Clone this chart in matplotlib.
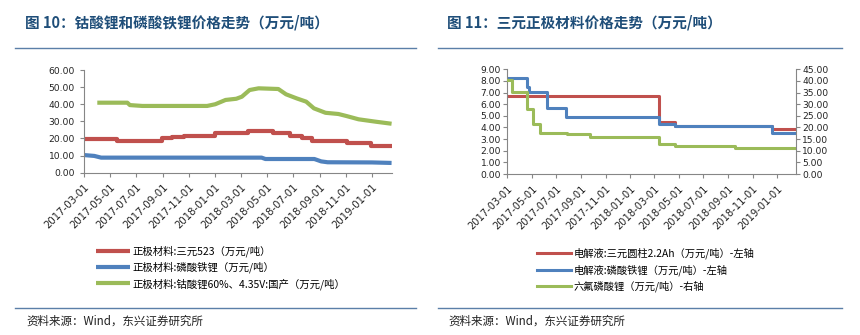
import pandas as pd
import matplotlib
matplotlib.use('Agg')
import matplotlib.pyplot as plt
from matplotlib.lines import Line2D

plt.rcParams['font.family'] = ['Noto Sans CJK SC', 'DejaVu Sans']

# --- Data: 图10 (left) ---
lco_dates = ['2017-04-01', '2017-06-10', '2017-06-16', '2017-07-15', '2017-12-13',
             '2018-01-01', '2018-01-25', '2018-02-19', '2018-03-04', '2018-03-22',
             '2018-04-12', '2018-05-28', '2018-06-15', '2018-07-10', '2018-08-01',
             '2018-08-19', '2018-09-15', '2018-10-15', '2018-11-03', '2018-12-01',
             '2019-01-10', '2019-02-16']
lco_vals = [40.9, 40.9, 39.5, 39.0, 39.0, 40.0, 42.5, 43.2, 44.4, 48.3,
            49.3, 48.9, 45.8, 43.4, 41.5, 37.6, 35.0, 34.3, 33.1, 31.2, 29.8, 28.6]

ncm_dates = ['2017-03-01', '2017-05-16', '2017-08-29', '2017-09-21', '2017-10-19',
             '2017-12-31', '2018-03-19', '2018-05-15', '2018-06-25', '2018-07-22',
             '2018-08-15', '2018-11-05', '2018-12-31', '2019-02-16']
ncm_vals = [19.5, 18.7, 20.1, 21.0, 21.6, 23.4, 24.4, 23.0, 21.4, 20.1,
            18.7, 17.2, 15.8, 15.8]

lfp_dates = ['2017-03-01', '2017-03-25', '2017-04-10', '2018-04-19', '2018-04-28',
             '2018-08-20', '2018-09-05', '2018-09-20', '2019-01-01', '2019-02-16']
lfp_vals = [10.3, 9.8, 8.8, 8.8, 8.0, 8.0, 6.6, 6.1, 6.0, 5.7]

# --- Data: 图11 (right) ---
el_ncm_dates = ['2017-03-01', '2018-03-13', '2018-04-22', '2018-12-19', '2019-02-16']
el_ncm_vals = [6.71, 4.50, 4.13, 3.84, 3.84]

el_lfp_dates = ['2017-03-01', '2017-04-19', '2017-04-25', '2017-06-07', '2017-07-25',
                '2018-03-13', '2018-04-22', '2018-12-19', '2019-02-16']
el_lfp_vals = [8.25, 7.5, 7.02, 5.70, 4.93, 4.27, 4.13, 3.55, 3.55]

lipf6_dates = ['2017-03-01', '2017-03-12', '2017-04-19', '2017-05-04', '2017-05-22',
               '2017-07-28', '2017-09-22', '2018-03-13', '2018-04-22', '2018-09-19',
               '2018-11-22', '2019-02-16']
lipf6_vals = [40.4, 35.4, 27.8, 21.5, 17.5, 17.1, 16.0, 12.9, 12.0, 11.0, 11.3, 11.3]

tick_dates = pd.date_range('2017-03-01', '2019-01-01', freq='2MS')
x_end = pd.Timestamp('2019-02-17')

RED = '#C0504D'
BLUE = '#4F81BD'
GREEN = '#9BBB59'
TITLE_C = '#1F4E79'
SEP_C = '#5B7FA8'
GRAY = '#868686'

fig = plt.figure(figsize=(8.6, 3.35), dpi=100)


def px(x, y):
    return x / 860, 1 - y / 335


def style_axis(ax, date_fs=7.3):
    ax.set_xlim(tick_dates[0], x_end)
    ax.set_xticks(tick_dates)
    ax.set_xticklabels([d.strftime('%Y-%m-%d') for d in tick_dates], rotation=45,
                       ha='right', va='top', rotation_mode='anchor',
                       fontsize=date_fs, family='DejaVu Sans', color='#222222')
    ax.tick_params(axis='x', length=3, color=GRAY, pad=4)
    ax.tick_params(axis='y', length=3, color=GRAY, labelsize=6.6, labelcolor='#222222')
    for lab in ax.get_yticklabels():
        lab.set_family('DejaVu Sans')
    for s in ['top', 'right']:
        ax.spines[s].set_visible(False)
    for s in ['left', 'bottom']:
        ax.spines[s].set_color(GRAY)
        ax.spines[s].set_linewidth(0.8)


# --- Left chart ---
l0, b0 = px(84, 172.7)
l1, b1 = px(392, 70)
ax1 = fig.add_axes([l0, b0, l1 - l0, b1 - b0])
ax1.plot(pd.to_datetime(ncm_dates), ncm_vals, color=RED, lw=3, drawstyle='steps-post',
         solid_capstyle='butt', label='正极材料:三元523（万元/吨）')
ax1.plot(pd.to_datetime(lfp_dates), lfp_vals, color=BLUE, lw=3,
         solid_capstyle='butt', label='正极材料:磷酸铁锂（万元/吨）')
ax1.plot(pd.to_datetime(lco_dates), lco_vals, color=GREEN, lw=3,
         solid_capstyle='butt', label='正极材料:钴酸锂60%、4.35V:国产（万元/吨）')
ax1.set_ylim(0, 60)
ax1.set_yticks(range(0, 61, 10))
ax1.yaxis.set_major_formatter(matplotlib.ticker.FormatStrFormatter('%.2f'))
style_axis(ax1)
ax1.legend(loc='upper left', bbox_to_anchor=px(96, 245.5), bbox_transform=fig.transFigure,
           frameon=False, fontsize=7.5, handlelength=3.3, handletextpad=0.2,
           labelspacing=0.45, borderaxespad=0, borderpad=0)

# --- Right chart ---
r0, rb0 = px(507.3, 174)
r1, rb1 = px(796, 69.3)
ax2 = fig.add_axes([r0, rb0, r1 - r0, rb1 - rb0])
ax3 = ax2.twinx()
h1, = ax2.plot(pd.to_datetime(el_ncm_dates), el_ncm_vals, color=RED, lw=2.2,
               drawstyle='steps-post', label='电解液:三元圆柱2.2Ah（万元/吨）-左轴')
h2, = ax2.plot(pd.to_datetime(el_lfp_dates), el_lfp_vals, color=BLUE, lw=2.2,
               drawstyle='steps-post', label='电解液:磷酸铁锂（万元/吨）-左轴')
h3, = ax3.plot(pd.to_datetime(lipf6_dates), lipf6_vals, color=GREEN, lw=2.2,
               drawstyle='steps-post', label='六氟磷酸锂（万元/吨）-右轴')
ax2.set_ylim(0, 9)
ax2.set_yticks(range(0, 10))
ax3.set_ylim(0, 45)
ax3.set_yticks(range(0, 46, 5))
ax2.yaxis.set_major_formatter(matplotlib.ticker.FormatStrFormatter('%.2f'))
ax3.yaxis.set_major_formatter(matplotlib.ticker.FormatStrFormatter('%.2f'))
style_axis(ax2, date_fs=7.1)
ax3.tick_params(axis='y', length=3, color=GRAY, labelsize=6.6, labelcolor='#222222', pad=1.5)
for lab in ax3.get_yticklabels():
    lab.set_family('DejaVu Sans')
for s in ['top', 'left', 'bottom']:
    ax3.spines[s].set_visible(False)
ax3.spines['right'].set_color(GRAY)
ax3.spines['right'].set_linewidth(0.8)
ax2.tick_params(axis='y', pad=1.5)
ax2.legend(handles=[h1, h2, h3], loc='upper left', bbox_to_anchor=px(536.5, 247.5),
           bbox_transform=fig.transFigure, frameon=False, fontsize=7.4,
           handlelength=3.4, handletextpad=0.2, labelspacing=0.5,
           borderaxespad=0, borderpad=0)

# --- Titles, separators, source ---
for x0, x1, title in [(25, 416, '图 10：钴酸锂和磷酸铁锂价格走势（万元/吨）'),
                      (447, 842, '图 11：三元正极材料价格走势（万元/吨）')]:
    fig.text(*px(x0, 22.5), title, fontsize=10.5, fontweight='bold', color=TITLE_C,
             va='center', ha='left')
    sx0 = 15 if x0 == 25 else 438
    for yy in (48, 307.7):
        fig.add_artist(Line2D([sx0 / 860, x1 / 860], [1 - yy / 335, 1 - yy / 335],
                              color=SEP_C, lw=1.0))
    fig.text(*px(x0 + 1, 321.5), '资料来源：Wind，东兴证券研究所', fontsize=8.3,
             style='italic', color='#222222', va='center', ha='left')

plt.savefig('out.png', dpi=100)
